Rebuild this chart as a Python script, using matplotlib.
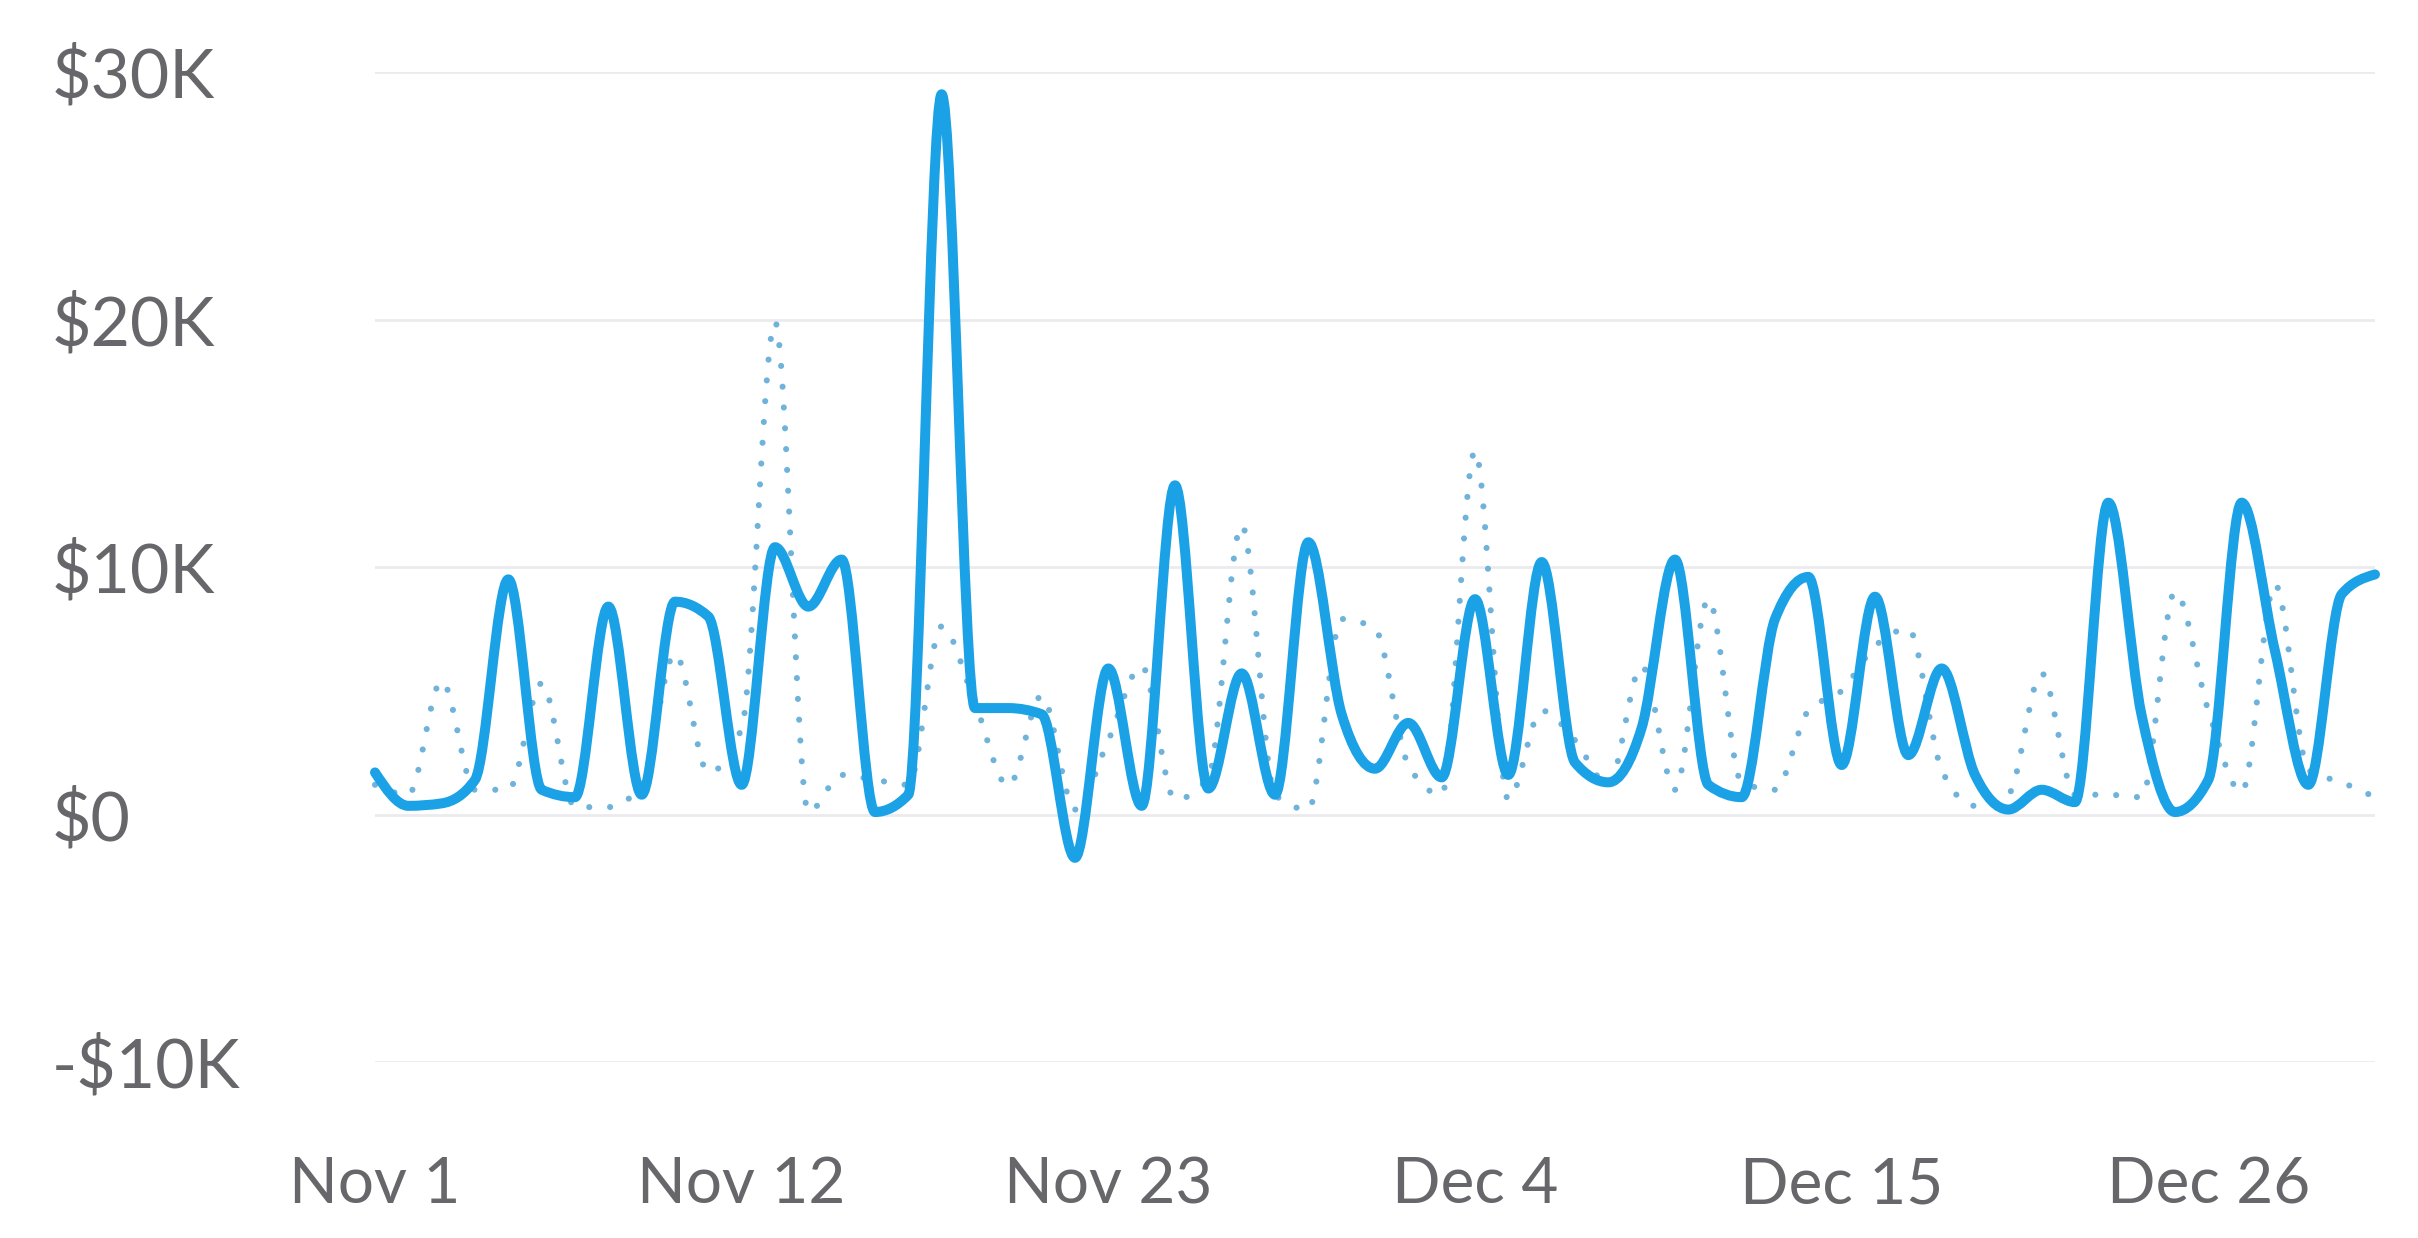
import numpy as np
import matplotlib
matplotlib.use('Agg')
import matplotlib.pyplot as plt
from matplotlib.path import Path
from matplotlib.patches import PathPatch

# daily revenue, thousands of dollars, Nov 1 .. Dec 31
current = [1.7, 0.35, 0.45, 1.4, 9.5, 1.0, 0.7, 8.4, 0.8, 8.6,
           8.0, 1.2, 10.8, 8.4, 10.3, 0.1, 0.8, 29.1, 4.3, 4.3,
           4.05, -1.75, 5.9, 0.35, 13.3, 1.05, 5.7, 0.8, 11.0, 4.05,
           1.85, 3.7, 1.5, 8.7, 1.6, 10.2, 2.1, 1.3, 3.5, 10.3,
           1.2, 0.7, 7.9, 9.6, 2.0, 8.8, 2.4, 5.9, 1.6, 0.2,
           1.0, 0.5, 12.6, 4.0, 0.1, 1.4, 12.6, 6.6, 1.2, 8.9, 9.7]
previous = [1.2, 0.8, 5.4, 1.0, 1.0, 5.3, 0.3, 0.3, 1.2, 6.5,
            1.7, 3.5, 19.9, 0.1, 1.6, 1.4, 1.2, 7.6, 4.5, 1.15,
            4.8, 0.2, 3.0, 6.0, 0.6, 1.5, 11.7, 0.8, 0.2, 7.9,
            7.5, 2.0, 0.8, 14.7, 0.6, 4.2, 3.0, 1.2, 6.0, 1.0,
            8.7, 1.3, 1.0, 4.2, 5.0, 6.8, 7.5, 1.8, 0.35, 0.8,
            5.7, 0.8, 0.8, 0.7, 9.0, 4.2, 0.9, 9.3, 1.8, 1.3, 0.7]
days = np.arange(len(current))

tick_days = [0, 11, 22, 33, 44, 55]
tick_labels = ['Nov 1', 'Nov 12', 'Nov 23', 'Dec 4', 'Dec 15', 'Dec 26']
y_ticks = [-10, 0, 10, 20, 30]
y_labels = ['-\\$10K', '\\$0', '\\$10K', '\\$20K', '\\$30K']


def monotone_path(x, y):
    # same shape as a monotone-x cubic curve, written as bezier segments
    x = np.asarray(x, float)
    y = np.asarray(y, float)
    h = np.diff(x)
    s = np.diff(y) / h
    m = np.zeros(len(x))
    for i in range(1, len(x) - 1):
        p = (s[i - 1] * h[i] + s[i] * h[i - 1]) / (h[i - 1] + h[i])
        m[i] = (np.sign(s[i - 1]) + np.sign(s[i])) * min(abs(s[i - 1]), abs(s[i]), 0.5 * abs(p))
    m[0] = (3 * s[0] - m[1]) / 2
    m[-1] = (3 * s[-1] - m[-2]) / 2
    verts = [(x[0], y[0])]
    codes = [Path.MOVETO]
    for i in range(len(x) - 1):
        d = h[i] / 3
        verts += [(x[i] + d, y[i] + m[i] * d), (x[i + 1] - d, y[i + 1] - m[i + 1] * d), (x[i + 1], y[i + 1])]
        codes += [Path.CURVE4] * 3
    return Path(verts, codes)


plt.rcParams['font.family'] = ['Lato', 'DejaVu Sans']

fig = plt.figure(figsize=(24.18, 12.38), dpi=100)
ax = fig.add_axes([375 / 2418, 1 - 1062 / 1238, 2000 / 2418, 990 / 1238])

for v in y_ticks:
    ax.axhline(v, color='#ebebef', lw=2, zorder=1)

prev = PathPatch(monotone_path(days, previous), fill=False, ec='#6fb3da', lw=4.4,
                 ls=(0, (0.01, 3.4)), capstyle='round', zorder=2, clip_on=False)
ax.add_patch(prev)
cur = PathPatch(monotone_path(days, current), fill=False, ec='#1ba1e6', lw=7.2,
                capstyle='round', joinstyle='round', zorder=3, clip_on=False)
ax.add_patch(cur)

ax.set_xlim(days[0], days[-1])
ax.set_ylim(-10, 30)
ax.set_xticks(tick_days)
ax.set_xticklabels(tick_labels)
ax.set_yticks(y_ticks)
ax.set_yticklabels(y_labels)
for lab in ax.get_yticklabels():
    lab.set_horizontalalignment('left')
ax.tick_params(axis='x', length=0, pad=68, labelsize=46, labelcolor='#66666b')
ax.tick_params(axis='y', length=0, pad=233, labelsize=49, labelcolor='#66666b')
for sp in ax.spines.values():
    sp.set_visible(False)

fig.savefig('out.png', dpi=100, facecolor='white')
